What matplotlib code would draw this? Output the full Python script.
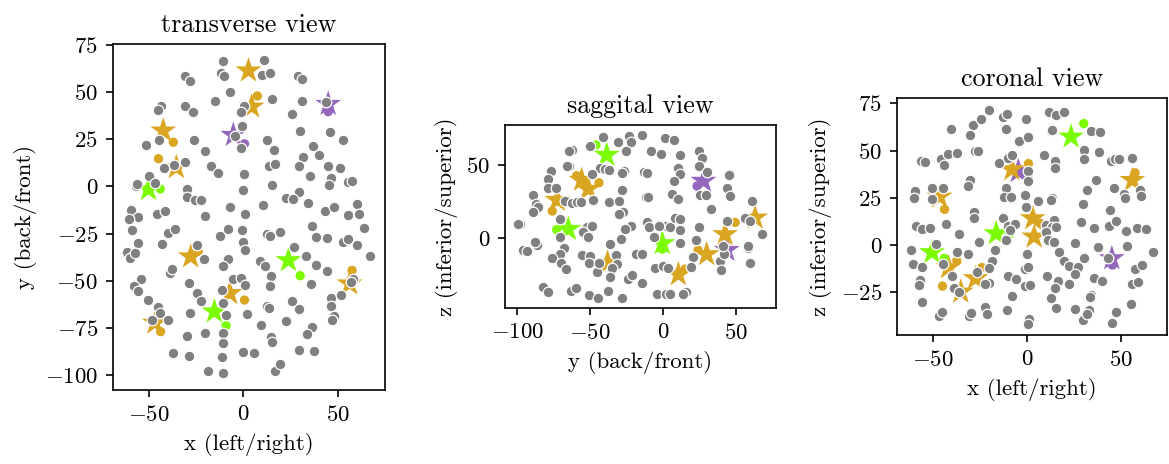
import matplotlib
matplotlib.use("Agg")
import matplotlib.pyplot as plt
import numpy as np

plt.rcParams.update({
    "font.family": "serif",
    "font.serif": ["cmr10"],
    "mathtext.fontset": "cm",
    "axes.formatter.use_mathtext": True,
    "axes.unicode_minus": True,
    "font.size": 11,
})

# ---------------- transverse view (x, y) ----------------
tv_gray_x = [-11, 11, -12, -10, 10, 14, -31, -28, 29, 31, -7, -15, 15, 31, -43.5, -45, -31, -26.5, 0.5, -1,
             43.5, 25.5, -0.5, 30, 46, -51.5, -44.5, -26, -4.5, 12.5, 52.5, -1.5, 16, 37, 40, -20, 31.5, -42,
             -36.5, -31, -17, -13.5, 0.5, 13.5, 16.5, 29.5, 44.5, 51, 35, 46.5, -50, -46.5, -56.5, -56, 15, 45,
             55.5, 57.5, -30, 0, 29.5, 22.5, 26, -30, -25.5, -22.5, 10.5, 34, 60, -59.5, -55.5, -60.5, -45.5,
             -41.5, -20, -7, 1, 43, 48, 55, 61,
             -59, -55.5, -61.5, -60, -57, -40, -36, -43, -12.5, -8, -0.5, 0, 1, -24.5, 12.5, 14, 19.5, 36.5,
             38.5, 44, 52.5, 55.5, 60, 63.5, 67, -21, -8, -10.5, 9, 11.5, 27, 33, 38.5, 44, -39, -37.5, -28.5,
             -24.5, -22.5, -5.5, -1, 1, 14.5, 14, 35.5, -54, -57.5, -55.5, -50.5, -11.5, -11, 46.5, 46.5, 48,
             47, 51.5, 58, 57, 25.5, 29.5, 12.5, 13.5, -45, -44, -48.5, -40, -28, -9, 2, 9.5, 22.5, 36, 33.5,
             -30, -20, -10.5, -10.5, 14.5, 15, -37, -28.5, -11.5, 0, 5.5, 29.5, 37.5, -18.5, -11, 16.5, 19.5]
tv_gray_y = [66.5, 67, 60, 58.5, 59, 60, 58.5, 55.5, 58.5, 57, 50, 45, 46, 45, 42.5, 40.5, 42.5, 39.5, 42.5, 39.5,
             44.5, 38.5, 32, 29, 28.5, 22, 24.5, 24.5, 26.5, 24.5, 24.5, 20, 19, 21.5, 16.5, 18.5, 15.5, 9.5,
             11.5, 13, 11, 7, 6.5, 10.5, 12, 11, 10.5, 9.5, 5.5, 4.5, 5.5, 2, 0, 1, 0.5, 0.5,
             2.5, 3, -1.5, -2, -3, -6, -6.5, -5.5, -7.5, -7.5, -10, -9, -9.5, -12.5, -16, -17.5, -14.5,
             -13, -15.5, -11, -14.5, -13, -11, -15, -14.5,
             -23, -30, -35, -38, -35.5, -24.5, -22.5, -30.5, -26.5, -22.5, -23, -29.5, -33.5, -31, -25, -26.5, -24, -21,
             -27, -27.5, -29.5, -28, -31, -22, -37, -38.5, -38.5, -42, -39.5, -42, -32, -37, -41.5, -45, -46, -44, -51,
             -56.5, -60.5, -49, -48.5, -52, -47.5, -52.5, -51.5, -49, -52.5, -55.5, -60, -55, -61.5, -59, -63.5, -68.5,
             -71, -57.5, -49, -50.5, -60.5, -65, -63.5, -64.5, -64, -67, -71, -70.5, -67, -68, -67.5, -73.5, -71.5, -74.5, -78,
             -79, -77.5, -77.5, -83, -79.5, -82.5, -88, -90, -90.5, -87.5, -88, -86.5, -87, -97.5, -99, -98, -94]

tv_star_x = [-5.3, 44.8, 2.7, 4.4, -42.3, -35.4, -27.8, -7.2, -46.7, 56.1, -50.1, -15.3, 23.8]
tv_star_y = [27.1, 43.5, 61.2, 42.1, 29.4, 10.0, -37.2, -56.6, -72.3, -51.5, -1.6, -66.3, -39.2]
tv_star_grp = ["purple", "purple", "orange", "orange", "orange", "orange", "orange", "orange", "orange", "orange",
               "green", "green", "green"]
tv_dot_x = [0.6, 44.8, 7.4, -37, -44.8, -23.9, 0.6, -43.7, 57.4, -43.9, -9.1, 30]
tv_dot_y = [22.5, 39.5, 47.8, 23.3, 14.6, -34.4, -60.2, -76.9, -44.5, -1.4, -73.7, -47.3]
tv_dot_grp = ["purple", "purple", "orange", "orange", "orange", "orange", "orange", "orange", "orange",
              "green", "green", "green"]

# ---------------- saggital view (y, z) ----------------
sg_gray_y = [-41.6, -23.5, -22.2, -14.8, 1.2, 7.3, -30.8, -25.8, -62.8, -64.4, -50.3, -8.4, -1.3, 11.7, 24.7, 26.5,
             -64.7, -66.0, -77.0, -43.4, -40.0, -37.2, -27.2, -28.6, -13.5, -11.2, 9.9, 11.7, 24.7, 29.7, 45.7, 44.8,
             -78.8, -79.3, -73.6, 7.3, -48.7, -28.6, 43.5, 45.5, -89.6, -87.3, -85.7, -89.6, -67.2, -62.8, -59.4,
             -56.4, -48.0, -37.2, -30.6, -12.1, -10.5, 5.7, 10.3, 25.2, 29.3, 60.6, 32.5, -27.4, -30.2, -98.3,
             -99.8, -70.8, -70.6, -52.1, -48.7, -54.8, -51.6, -22.2, -26.5, -11.2, -10.0, 1.6, 4.6, 7.8, 11.5,
             11.7, 24.5, 43.7, 56.3, 59.5, 67.5, -6.1, -29.0, -36.3, 22.2, 11.7, -96.2, -93.7, -86.9, -87.8,
             -68.1, -71.1, -76.6, -69.9, -66.7, -55.5, -50.3, -51.2, -45.7, -43.9, -32.4, -31.5, -35.2, -18.7,
             -14.4, 20.1, 38.9, 41.9, 41.2, 57.9, 58.3, 59.5, -5.7, 0.0, 3.5, 19.0, 39.6, -36.6, -24.0, -21.2,
             -14.8, -82.3, -78.8, -63.3, -59.9, -51.2, -44.6, -37.9, -28.1, -4.5, 1.9, 4.8, 15.3, -3.2, 13.8]
sg_gray_z = [69.7, 70.4, 66.2, 71.0, 68.7, 67.4, 65.8, 59.8, 60.5, 59.6, 63.3, 60.1, 58.0, 57.3, 59.6, 54.8,
             49.8, 49.3, 46.1, 48.4, 47.5, 46.8, 46.4, 44.5, 45.2, 45.0, 48.4, 44.1, 49.5, 45.4, 43.8, 43.5,
             40.6, 34.2, 34.2, 39.5, 43.8, 33.3, 34.2, 29.2, 29.9, 23.7, 21.7, 18.0, 25.3, 24.2, 24.6,
             25.1, 26.2, 25.1, 25.8, 28.3, 28.5, 30.3, 26.9, 29.9, 29.7, 25.3, 20.3, 18.0, 16.6, 9.5,
             9.8, 13.0, 1.1, 7.9, 8.6, 4.1, 0.6, 8.4, 6.6, 11.4, 7.5, 8.2, 7.5, 14.1, 13.2,
             5.9, 7.9, 11.6, 14.1, 12.1, 2.9, 1.1, -0.3, -3.7, -1.0, -3.0, -8.1, -8.5, -4.9, -2.8,
             -6.9, -11.0, -13.8, -16.8, -21.3, -11.5, -11.9, -17.2, -22.9, -17.2, -11.5, -17.4, -20.6, -10.6,
             -10.8, -13.1, -15.4, -10.6, -5.3, -6.9, -5.1, -16.8, -20.6, -19.0, -20.2, -19.7, -21.8, -26.4, -28.2, -25.4,
             -30.7, -33.2, -36.6, -36.0, -33.9, -38.9, -40.8, -36.2, -41.2, -38.2, -38.2, -38.0, -36.6, 8.5, -38.4]

sg_star_y = [27.5, 43.5, -51.4, -56.0, -72.7, -38.2, 10.3, 29.7, 42.3, 62.9, -38.8, -65.1, -0.7]
sg_star_z = [39.3, -8.1, 33.8, 39.9, 26.2, -16.8, -24.8, -11.0, 2.7, 14.1, 57.1, 6.3, -3.5]
sg_star_grp = ["purple", "purple", "orange", "orange", "orange", "orange", "orange", "orange", "orange", "orange",
               "green", "green", "green"]
sg_dot_y = [23.1, 41.0, -44.1, -59.4, -76.1, 14.9, 23.8, 49.2, -46.2, -73.1, -0.7]
sg_dot_z = [35.8, -5.5, 38.1, 42.9, 18.7, -21.1, -8.1, 10.9, 64.0, 5.9, -7.4]
sg_dot_grp = ["purple", "purple", "orange", "orange", "orange", "orange", "orange", "orange",
              "green", "green", "green"]

# ---------------- coronal view (x, z) ----------------
co_gray_x = [-19.8, -12.7, -10.6, -0.3, 11.9, 15.4, 19.8, -40.2, -28.4, -24.2, -30.0, -10.9, -4.2, 0.4, 12.9, 13.6,
             34.3, 38.7, -56.1, -53.9, -45.5, -44.0, -42.0, -37.2, -27.7, -25.8, -14.5, -10.2, -7.6, 9.0, 15.2,
             14.9, 30.1, 30.1, 38.5, 44.4, 47.0, 48.8, 56.0, 0.7, 0.7, -30.0, -31.1, 36.6, 31.8, 46.3, 51.3, 52.1,
             60.3, 60.4, -59.3, -59.9, -50.1, -44.7, -50.5, -11.1, -0.9, 5.7, 13.6, 13.1, -12.0, -8.5, 29.7, -0.3,
             44.0,
             -28.2, -28.2, -42.7, -58.8, -55.6, -51.6, -36.2, -25.6, -12.7, -10.2, -6.5, -10.9, -8.8, 0.0, 10.3,
             14.2, 13.6, 15.4, 10.3, 11.5, 14.5, 17.2, 28.8, 25.8, 35.9, 43.7, 47.4, 52.7, 58.3, 63.3, 53.0, 37.5,
             67.1, -61.3, -60.4, -55.6, -37.1, -31.2, -44.7, -39.7, -16.8, -18.2, -19.9, -19.8, -22.4, -26.5,
             -38.8, -36.2, -10.0, -5.6, -1.0, 0.9, -0.9, 1.8, 10.6, 16.3, 14.9, 13.1, 15.4, 19.8, 22.6, 27.1,
             25.8, 22.5, 30.6, 35.9, 39.8, 34.1, 33.4, 57.3, 61.3, 56.0, 59.2, 55.5, -56.5, -57.0, -55.6, -46.4,
             -45.0, -30.4, -29.8, -22.4, -21.2, -10.6, -7.9, 1.4, 0.4, 25.6, 29.7, 33.1, 31.8, 45.1, 47.2, 43.3,
             -48.2]
co_gray_z = [71.4, 67.9, 69.6, 66.5, 70.2, 69.1, 70.2, 61.2, 63.8, 66.6, 58.5, 61.5, 55.2, 57.3, 60.3, 60.8,
             60.4, 59.9, 44.4, 43.8, 45.4, 42.3, 48.4, 48.8, 49.7, 49.7, 43.5, 45.8, 47.9, 47.4, 44.2,
             41.0, 50.2, 45.4, 49.0, 44.4, 45.3, 45.4, 46.3, 39.3, 33.8, 34.3, 31.0, 34.3, 29.0, 29.9, 26.9, 24.6,
             29.0, 25.8, 28.7, 24.6, 30.2, 30.2, 24.2, 30.1, 26.4, 23.4, 25.1, 23.7, 25.5, 25.5, 21.9, 20.2,
             18.4,
             17.5, 14.0, 11.3, 9.9, 8.3, 8.7, 6.0, 1.6, 14.0, 10.1, 11.3, 2.5, 7.8, -5.1, 10.5,
             13.1, 9.2, 9.2, 6.9, 2.5, 1.3, -3.7, 12.2, 1.1, 8.7, 10.1, 12.6, 7.4, 8.7, 8.3, -0.7, -1.4,
             -3.7, -2.8, -10.2, -12.0, -3.7, -5.1, -9.9, -16.6, -2.8, -8.5, -12.5, -20.1, -20.8, -14.3,
             -23.1, -24.9, -16.4, -18.3, -12.9, -12.0, -21.9, -21.3, -16.6, -19.4, -23.1, -28.4, -33.7, -8.6, -11.3, -11.6,
             -15.5, -20.8, -6.9, -17.8, -19.2, -26.6, -27.9, -13.0, -10.7, -20.8, -19.6, -31.1, -18.7, -21.3, -30.2, -37.8,
             -35.5, -37.8, -36.4, -32.8, -36.7, -34.6, -27.2, -39.5, -42.2, -34.2, -39.9, -34.6, -36.7, -41.7, -35.8, -7.2,
             0.7]

co_star_x = [-4.5, 45.1, -7.9, -46.3, 56.0, 3.2, 3.9, -41.5, -27.2, -35.0, 23.5, -16.2, -50.3]
co_star_z = [39.0, -7.2, 40.0, 25.5, 34.3, 14.0, 4.3, -12.0, -17.8, -24.9, 57.3, 6.0, -4.0]
co_star_grp = ["purple", "purple", "orange", "orange", "orange", "orange", "orange", "orange", "orange", "orange",
               "green", "green", "green"]
co_dot_x = [0.5, 45.4, 0.9, -43.6, 57.4, 7.4, -37.1, -23.8, -44.7, 30.2, -9.2, -43.8]
co_dot_z = [37.0, -10.7, 43.1, 18.8, 38.2, 11.3, -8.5, -12.0, -21.9, 64.3, 5.7, -7.2]
co_dot_grp = ["purple", "purple", "orange", "orange", "orange", "orange", "orange", "orange", "orange",
              "green", "green", "green"]

group_colors = {"orange": "goldenrod", "purple": "tab:purple", "green": "lawngreen"}

W, H, DPI = 1169, 464, 150
fig = plt.figure(figsize=(W / DPI, H / DPI), dpi=DPI)


def px_axes(left, top, right, bottom):
    return fig.add_axes([left / W, 1 - bottom / H, (right - left) / W, (bottom - top) / H])


def draw(ax, gx, gy, sx, sy, sg, dx, dy, dg):
    sc = [group_colors[g] for g in sg]
    dc = [group_colors[g] for g in dg]
    ax.scatter(sx, sy, s=170, marker="*", c=sc, linewidths=0, zorder=2)
    ax.scatter(dx, dy, s=20, marker="o", c=dc, linewidths=0, zorder=3)
    ax.scatter(gx, gy, s=26, marker="o", c="gray", edgecolors="white", linewidths=0.6, zorder=4)
    ax.tick_params(direction="out", labelsize=11)


ax1 = px_axes(112.7, 44, 385, 390)
draw(ax1, tv_gray_x, tv_gray_y, tv_star_x, tv_star_y, tv_star_grp, tv_dot_x, tv_dot_y, tv_dot_grp)
ax1.set_xlim(-69.0, 74.8)
ax1.set_ylim(-107.8, 75.3)
ax1.set_xticks([-50, 0, 50])
ax1.set_yticks([-100, -75, -50, -25, 0, 25, 50, 75])
ax1.set_xlabel("x (left/right)", fontsize=11)
ax1.set_ylabel("y (back/front)", fontsize=11)
ax1.set_title("transverse view", fontsize=12.5)

ax2 = px_axes(505, 125, 776, 308)
draw(ax2, sg_gray_y, sg_gray_z, sg_star_y, sg_star_z, sg_star_grp, sg_dot_y, sg_dot_z, sg_dot_grp)
ax2.set_xlim(-108.5, 77.2)
ax2.set_ylim(-47.8, 77.7)
ax2.set_xticks([-100, -50, 0, 50])
ax2.set_yticks([0, 50])
ax2.set_xlabel("y (back/front)", fontsize=11)
ax2.set_ylabel("z (inferior/superior)", fontsize=11)
ax2.set_title("saggital view", fontsize=12.5)

ax3 = px_axes(896.7, 98.3, 1166.7, 335)
draw(ax3, co_gray_x, co_gray_z, co_star_x, co_star_z, co_star_grp, co_dot_x, co_dot_z, co_dot_grp)
ax3.set_xlim(-69.0, 74.2)
ax3.set_ylim(-47.8, 77.7)
ax3.set_xticks([-50, 0, 50])
ax3.set_yticks([-25, 0, 25, 50, 75])
ax3.set_xlabel("x (left/right)", fontsize=11)
ax3.set_ylabel("z (inferior/superior)", fontsize=11)
ax3.set_title("coronal view", fontsize=12.5)

fig.savefig("out.png", dpi=DPI)
